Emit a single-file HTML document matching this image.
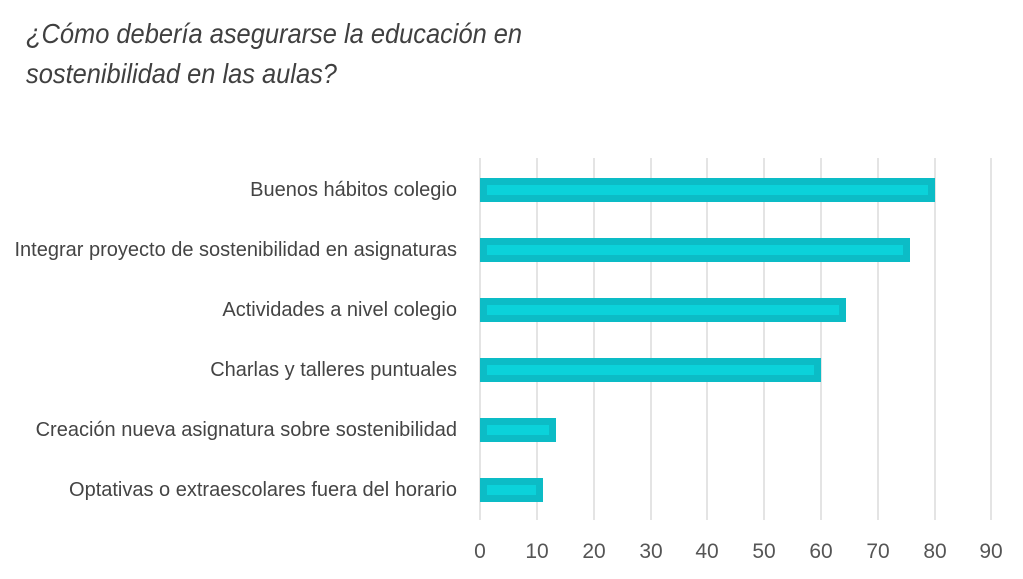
<!DOCTYPE html><html><head><style>
body{margin:0;background:#fff;width:1023px;height:579px;overflow:hidden;position:relative;font-family:"Liberation Sans Narrow","Liberation Sans",sans-serif;color:#444}
.t{position:absolute;left:26px;top:14px;font-size:28px;font-style:italic;line-height:40px;color:#404040;transform:scaleX(0.908);transform-origin:0 0;white-space:nowrap}
.g{position:absolute;top:158px;height:362px;width:2px;background:#e4e4e4}
.b{position:absolute;left:480px;height:24px;background:#0cbcc6}
.b i{position:absolute;left:7px;right:7px;top:7px;bottom:7px;background:#0bd2da}
.l{position:absolute;right:566px;font-size:20px;white-space:nowrap;line-height:24px}
.x{position:absolute;top:540px;font-size:21px;width:40px;margin-left:-20px;text-align:center;color:#555}
</style></head><body>
<div class="t">¿Cómo debería asegurarse la educación en<br>sostenibilidad en las aulas?</div>
<div class="g" style="left:479px"></div><div class="g" style="left:536px"></div><div class="g" style="left:593px"></div><div class="g" style="left:650px"></div><div class="g" style="left:706px"></div><div class="g" style="left:763px"></div><div class="g" style="left:820px"></div><div class="g" style="left:877px"></div><div class="g" style="left:934px"></div><div class="g" style="left:990px"></div>
<div class="b" style="top:178px;width:455px"><i></i></div>
<div class="b" style="top:238px;width:430px"><i></i></div>
<div class="b" style="top:298px;width:366px"><i></i></div>
<div class="b" style="top:358px;width:341px"><i></i></div>
<div class="b" style="top:418px;width:76px"><i></i></div>
<div class="b" style="top:478px;width:63px"><i></i></div>
<div class="l" style="top:178px">Buenos hábitos colegio</div>
<div class="l" style="top:238px">Integrar proyecto de sostenibilidad en asignaturas</div>
<div class="l" style="top:298px">Actividades a nivel colegio</div>
<div class="l" style="top:358px">Charlas y talleres puntuales</div>
<div class="l" style="top:418px">Creación nueva asignatura sobre sostenibilidad</div>
<div class="l" style="top:478px">Optativas o extraescolares fuera del horario</div>
<div class="x" style="left:480px">0</div><div class="x" style="left:537px">10</div><div class="x" style="left:594px">20</div><div class="x" style="left:651px">30</div><div class="x" style="left:707px">40</div><div class="x" style="left:764px">50</div><div class="x" style="left:821px">60</div><div class="x" style="left:878px">70</div><div class="x" style="left:935px">80</div><div class="x" style="left:991px">90</div>
</body></html>
